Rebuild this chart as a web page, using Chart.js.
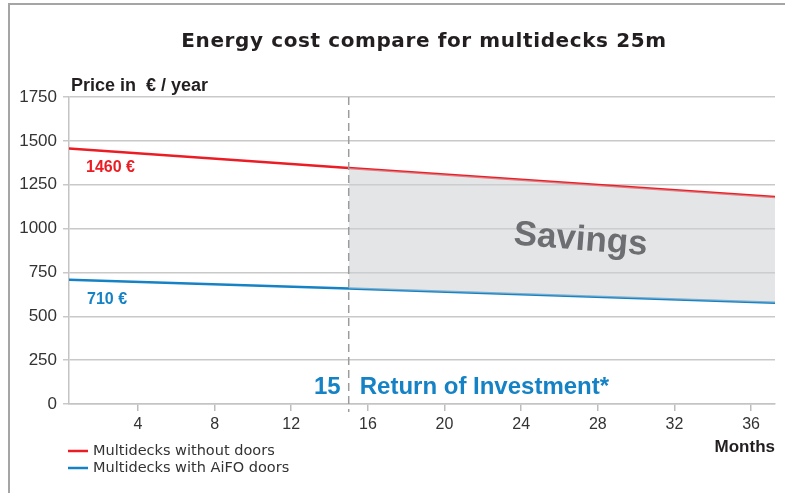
<!DOCTYPE html>
<html>
<head>
<meta charset="utf-8">
<script src="https://cdn.jsdelivr.net/npm/chart.js@4"></script>
<style>
  body { margin: 0; background: #fff; }
  #wrap { position: relative; width: 785px; height: 493px; }
  #frame { position: absolute; left: 8px; top: 3px; right: 0; bottom: 0;
           border-top: 2px solid #a5a5a5; border-left: 2px solid #a5a5a5; pointer-events: none; }
</style>
</head>
<body>
<div id="wrap">
  <canvas id="cost-chart" width="785" height="493"></canvas>
  <div id="frame"></div>
</div>
<script>
const months = [0, 15, 38];
const withoutDoors = [1460, 1345, 1174];
const withDoors = [710, 658, 575];
const monthTicks = [4, 8, 12, 16, 20, 24, 28, 32, 36];
const priceTicks = [0, 250, 500, 750, 1000, 1250, 1500, 1750];
const returnMonth = 15;

const RED = "#ec1c24";
const BLUE = "#1482c5";
const FONT = "'Liberation Sans', Arial, sans-serif";
const WIDE = "'DejaVu Sans', sans-serif";

const pts = (xs, ys) => xs.map((x, i) => ({ x: x, y: ys[i] }));
const fromReturn = (ys) => pts(months, ys).filter(p => p.x >= returnMonth);

const overlay = {
  id: 'overlay',
  afterDatasetsDraw(chart) {
    const ctx = chart.ctx, a = chart.chartArea;
    const xs = chart.scales.x, ys = chart.scales.y;
    const xr = xs.getPixelForValue(returnMonth);
    ctx.save();

    // break-even marker
    ctx.strokeStyle = "#9c9c9c";
    ctx.lineWidth = 1.5;
    ctx.setLineDash([8, 5]);
    ctx.beginPath();
    ctx.moveTo(xr, a.top);
    ctx.lineTo(xr, a.bottom + 8);
    ctx.stroke();
    ctx.setLineDash([]);

    // savings label inside the shaded band
    ctx.save();
    ctx.translate(xs.getPixelForValue(27.1), ys.getPixelForValue(934));
    ctx.rotate(4.5 * Math.PI / 180);
    ctx.fillStyle = "#6d6e71";
    ctx.font = "bold 35px " + FONT;
    ctx.textAlign = "center";
    ctx.textBaseline = "middle";
    ctx.fillText("Savings", 0, 0);
    ctx.restore();

    // start values
    ctx.font = "bold 16px " + FONT;
    ctx.textBaseline = "middle";
    ctx.textAlign = "left";
    ctx.fillStyle = RED;
    ctx.fillText(withoutDoors[0] + " €", a.left + 17, ys.getPixelForValue(withoutDoors[0]) + 20);
    ctx.fillStyle = BLUE;
    ctx.fillText(withDoors[0] + " €", a.left + 18, ys.getPixelForValue(withDoors[0]) + 20);

    // return of investment
    ctx.font = "bold 24px " + FONT;
    ctx.textBaseline = "alphabetic";
    ctx.fillStyle = BLUE;
    ctx.textAlign = "right";
    ctx.fillText(String(returnMonth), xr - 8, a.bottom - 10);
    ctx.textAlign = "left";
    ctx.fillText("Return of Investment*", xr + 11, a.bottom - 10);

    ctx.restore();
  },
  afterDraw(chart) {
    const ctx = chart.ctx, a = chart.chartArea;
    ctx.save();
    ctx.fillStyle = "#231f20";
    ctx.textBaseline = "middle";

    ctx.font = "bold 20px " + WIDE;
    ctx.letterSpacing = "0.6px";
    ctx.textAlign = "center";
    ctx.fillText("Energy cost compare for multidecks 25m", 424, 42);
    ctx.letterSpacing = "0px";

    ctx.font = "bold 18px " + FONT;
    ctx.textAlign = "left";
    ctx.fillText("Price in  € / year", a.left + 2, 86);

    ctx.font = "bold 17px " + FONT;
    ctx.textAlign = "right";
    ctx.fillText("Months", a.right, 447);

    // legend
    const items = chart.data.datasets.filter(d => !d.hideInLegend);
    ctx.font = "14.5px " + WIDE;
    ctx.textAlign = "left";
    items.forEach((d, i) => {
      const y = 451 + i * 17;
      ctx.strokeStyle = d.borderColor;
      ctx.lineWidth = 2.5;
      ctx.beginPath();
      ctx.moveTo(a.left - 1, y);
      ctx.lineTo(a.left + 19, y);
      ctx.stroke();
      ctx.fillStyle = "#333";
      ctx.fillText(d.label, a.left + 24, y);
    });
    ctx.restore();
  }
};

new Chart(document.getElementById("cost-chart"), {
  type: 'line',
  data: {
    datasets: [{
        label: "savingsTop",
        hideInLegend: true,
        data: fromReturn(withoutDoors),
        borderWidth: 0,
        pointRadius: 0,
        backgroundColor: "rgba(205,207,211,0.55)",
        fill: '+1'
      }, {
        label: "savingsBottom",
        hideInLegend: true,
        data: fromReturn(withDoors),
        borderWidth: 0,
        pointRadius: 0,
        fill: false
      }, {
        label: "Multidecks without doors",
        data: pts(months, withoutDoors),
        borderColor: RED,
        borderWidth: 2.5,
        pointRadius: 0,
        fill: false
      }, {
        label: "Multidecks with AiFO doors",
        data: pts(months, withDoors),
        borderColor: BLUE,
        borderWidth: 2.5,
        pointRadius: 0,
        fill: false
      }
    ]
  },
  options: {
    responsive: false,
    animation: false,
    layout: { padding: { top: 97, right: 10, left: 0, bottom: 0 } },
    plugins: {
      legend: { display: false },
      tooltip: { enabled: false }
    },
    scales: {
      x: {
        type: 'linear',
        min: 0.4,
        max: 37.25,
        afterBuildTicks(s) { s.ticks = monthTicks.map(v => ({ value: v })); },
        afterFit(s) { s.height = 89; },
        grid: { drawOnChartArea: false, drawTicks: true, tickLength: 7, color: "#bdbdbd", lineWidth: 1.5 },
        border: { color: "#c4c4c4", width: 1.5 },
        ticks: { color: "#333", font: { family: FONT, size: 16 }, padding: 4, callback: v => String(v) }
      },
      y: {
        min: 0,
        max: 1750,
        afterBuildTicks(s) { s.ticks = priceTicks.map(v => ({ value: v })); },
        afterFit(s) { s.width = 69; },
        grid: { color: "#c9c9c9", lineWidth: 1.5, tickLength: 6 },
        border: { color: "#c4c4c4", width: 1.5 },
        ticks: { color: "#333", font: { family: FONT, size: 17 }, padding: 6, callback: v => String(v) }
      }
    }
  },
  plugins: [overlay]
});
</script>
</body>
</html>
